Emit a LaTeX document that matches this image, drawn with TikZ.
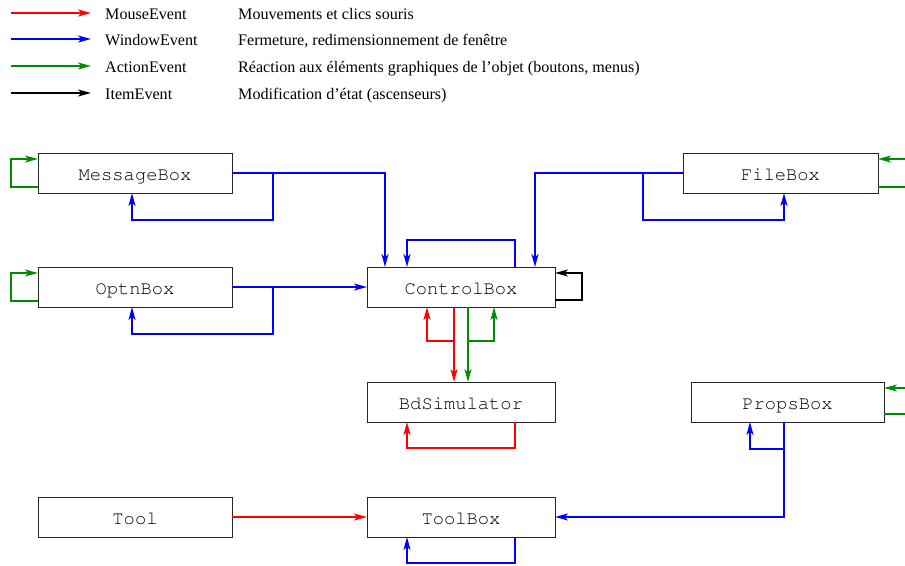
\documentclass[tikz,border=0pt]{standalone}
\usepackage{fontspec}
\setmainfont{Liberation Serif}
\usetikzlibrary{arrows.meta,calc}
\definecolor{evred}{RGB}{255,0,0}
\definecolor{evblue}{RGB}{0,0,255}
\definecolor{evgreen}{RGB}{0,140,0}
\newcommand{\boxfont}{\fontencoding{T1}\fontfamily{pcr}\fontseries{m}\fontshape{n}\fontsize{18.8}{20}\selectfont}
\begin{document}
\begin{tikzpicture}[x=1pt,y=-1pt,
  conn/.style={line width=1.7pt},
  tip/.style={-{Stealth[length=13pt,width=7pt,inset=3.5pt]}},
  mev/.style={conn,evred,tip},
  wev/.style={conn,evblue,tip},
  aev/.style={conn,evgreen,tip},
  iev/.style={conn,black,tip},
  aline/.style={conn,evgreen},
  box/.style={draw=black!85,line width=1pt,outer sep=0pt,minimum height=40pt,inner sep=0pt,
    text height=15.4pt,text depth=0pt,font=\boxfont},
  legtxt/.style={anchor=base west,inner sep=0pt,font=\fontsize{16.1}{18}\selectfont}
]
\useasboundingbox (0,0) rectangle (905,565);
% legend
\coordinate (l1a) at (11,13); \coordinate (l1b) at (91,13);
\coordinate (l2a) at (11,39); \coordinate (l2b) at (91,39);
\coordinate (l3a) at (11,66); \coordinate (l3b) at (91,66);
\coordinate (l4a) at (11,93); \coordinate (l4b) at (91,93);
\draw[mev] (l1a) -- (l1b);
\draw[wev] (l2a) -- (l2b);
\draw[aev] (l3a) -- (l3b);
\draw[iev] (l4a) -- (l4b);
\node[legtxt] (n1) at (105,19.5) {MouseEvent};
\node[legtxt] (n2) at (105,45.5) {WindowEvent};
\node[legtxt] (n3) at (105,72) {ActionEvent};
\node[legtxt] (n4) at (105,99.5) {ItemEvent};
\node[legtxt] (d1) at (238,19.5) {Mouvements et clics souris};
\node[legtxt] (d2) at (238,45.5) {Fermeture, redimensionnement de fenêtre};
\node[legtxt] (d3) at (238,72) {Réaction aux éléments graphiques de l’objet (boutons, menus)};
\node[legtxt] (d4) at (238,99.5) {Modification d’état (ascenseurs)};
% boxes
\node[box,minimum width=194pt] (msg) at (135,173) {MessageBox};
\node[box,minimum width=194pt] (opt) at (135,287) {OptnBox};
\node[box,minimum width=188pt] (ctrl) at (461,287) {ControlBox};
\node[box,minimum width=188pt] (bd) at (461,402) {BdSimulator};
\node[box,minimum width=195pt] (file) at (780.5,173) {FileBox};
\node[box,minimum width=193pt] (props) at (787.5,402) {PropsBox};
\node[box,minimum width=194pt] (tool) at (135,517) {Tool};
\node[box,minimum width=188pt] (toolbox) at (461,517) {ToolBox};
% MessageBox
\draw[aev] ($(msg.south west)+(0,-6)$) -- ++(-27,0) |- ($(msg.north west)+(0,6)$);
\draw[wev] (msg.east) -| ($(ctrl.north west)+(18,0)$);
\coordinate (mb) at (273,173);
\draw[wev] (mb) -- ++(0,47) -| ($(msg.south)+(-3,0)$);
% OptnBox
\draw[aev] ($(opt.south west)+(0,-6)$) -- ++(-27,0) |- ($(opt.north west)+(0,6)$);
\draw[wev] (opt.east) -- (ctrl.west);
\coordinate (ob) at (273,287);
\draw[wev] (ob) -- ++(0,47) -| ($(opt.south)+(-3,0)$);
% ControlBox self loops
\draw[wev] ($(ctrl.north west)+(148,0)$) -- ++(0,-27) -| ($(ctrl.north west)+(40,0)$);
\draw[iev] ($(ctrl.south east)+(0,-7)$) -- ++(27,0) |- ($(ctrl.north east)+(0,6)$);
% FileBox
\draw[wev] (file.west) -| ($(ctrl.north east)+(-20,0)$);
\coordinate (fb) at (643,173);
\draw[wev] (fb) -- ++(0,47) -| ($(file.south)+(3.5,0)$);
\coordinate (fe1) at (905,159);
\coordinate (fe2) at (905,187);
\draw[aev] (fe1) -- (file.east |- fe1);
\draw[aline] (file.east |- fe2) -- (fe2);
% ControlBox -> BdSimulator
\draw[mev] ($(ctrl.south)+(-7,0)$) -- ($(bd.north)+(-7,0)$);
\draw[aev] ($(ctrl.south)+(7,0)$) -- ($(bd.north)+(7,0)$);
\coordinate (rb) at (454,341);
\draw[mev] (rb) -| ($(ctrl.south)+(-34,0)$);
\coordinate (gb) at (468,341);
\draw[aev] (gb) -| ($(ctrl.south)+(33,0)$);
% BdSimulator loop
\draw[mev] ($(bd.south west)+(148,0)$) -- ++(0,26) -| ($(bd.south west)+(40,0)$);
% PropsBox
\coordinate (pe1) at (905,388);
\coordinate (pe2) at (905,414);
\draw[aev] (pe1) -- (props.east |- pe1);
\draw[aline] (props.east |- pe2) -- (pe2);
\draw[wev] ($(props.south)+(-3.5,0)$) |- (toolbox.east);
\coordinate (pb) at (784,449);
\draw[wev] (pb) -| ($(props.south)+(-37.5,0)$);
% Tool
\draw[mev] (tool.east) -- (toolbox.west);
\draw[wev] ($(toolbox.south west)+(148,0)$) -- ++(0,26) -| ($(toolbox.south west)+(40,0)$);
\end{tikzpicture}
\end{document}
